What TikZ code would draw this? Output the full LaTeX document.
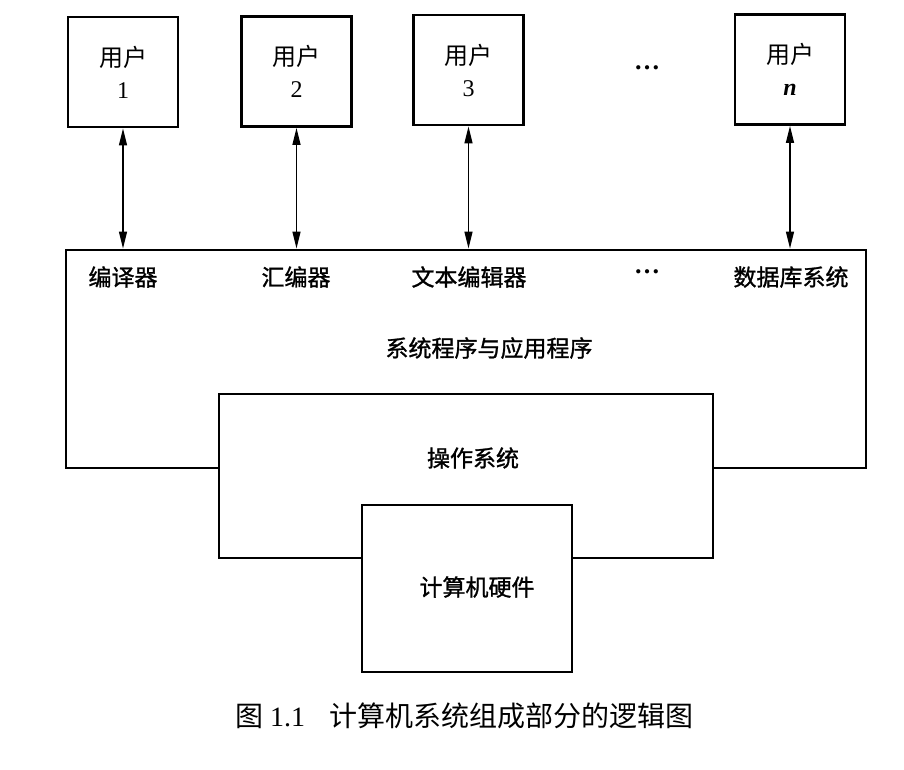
\documentclass[tikz,border=0pt]{standalone}
\usepackage{fontspec}
\setmainfont{Liberation Serif}
\newfontfamily\cjk{Noto Sans CJK SC}
\newfontfamily\cjkb[FakeBold=1.2]{Noto Sans CJK SC}
\usetikzlibrary{arrows.meta}
\begin{document}
\begin{tikzpicture}[x=1pt,y=-1pt,
  boxline/.style={draw, line width=2.8pt, fill=white, inner sep=0pt},
  ubox/.style={boxline, minimum width=110pt, minimum height=110pt, align=center,
    font=\fontsize{24}{32}\selectfont},
  lbl/.style={font=\cjkb\fontsize{23}{28}\selectfont, inner sep=0pt},
  dotsl/.style={font=\fontsize{26}{30}\selectfont\bfseries, inner sep=0pt},
  link/.style={line width=1.3pt, {Triangle[length=17pt,width=8pt]}-{Triangle[length=17pt,width=8pt]}},
]
\useasboundingbox (0,0) rectangle (904,770);
% user boxes
\node[ubox] (u1) at (123,72) {{\cjk 用户}\\1};
\node[ubox] (u2) at (296.5,71.5) {{\cjk 用户}\\2};
\node[ubox] (u3) at (468.5,70) {{\cjk 用户}\\3};
\node[ubox] (un) at (790,69.5) {{\cjk 用户}\\\textbf{\textit{n}}};
\node[dotsl] (d1) at (647,68) {…};
% layered boxes
\node[boxline, minimum width=800pt, minimum height=218pt] (sys) at (466,359) {};
\node[boxline, minimum width=494pt, minimum height=164pt] (os) at (466,476) {};
\node[boxline, minimum width=210pt, minimum height=167pt] (hw) at (467,588.5) {};
% arrows
\draw[link] (u1.south) -- (u1.south |- sys.north);
\draw[link] (u2.south) -- (u2.south |- sys.north);
\draw[link] (u3.south) -- (u3.south |- sys.north);
\draw[link] (un.south) -- (un.south |- sys.north);
% labels
\node[lbl] (l1) at (123,277) {编译器};
\node[lbl] (l2) at (296,277) {汇编器};
\node[lbl] (l3) at (469,277) {文本编辑器};
\node[dotsl] (d2) at (647,272) {…};
\node[lbl] (l5) at (791,277) {数据库系统};
\node[lbl] (sysl) at (489,348) {系统程序与应用程序};
\node[lbl] (osl) at (473,458) {操作系统};
\node[lbl] (hwl) at (477,587) {计算机硬件};
% caption
\node[anchor=west, inner sep=0pt, font=\fontsize{28}{32}\selectfont] (cap) at (235,716)
  {{\cjk 图} 1.1\hspace{24pt}{\cjk 计算机系统组成部分的逻辑图}};
\end{tikzpicture}
\end{document}
